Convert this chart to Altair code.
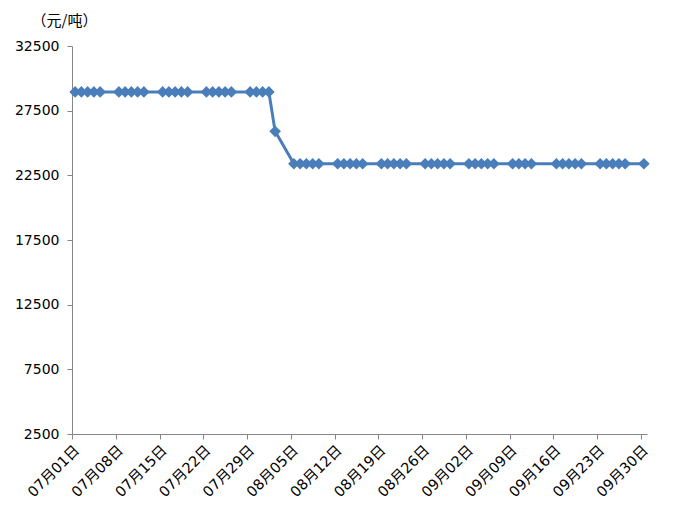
import altair as alt
import pandas as pd

# Trading days (2013) and price in 元/吨
trade_days = [
    "07-01", "07-02", "07-03", "07-04", "07-05",
    "07-08", "07-09", "07-10", "07-11", "07-12",
    "07-15", "07-16", "07-17", "07-18", "07-19",
    "07-22", "07-23", "07-24", "07-25", "07-26",
    "07-29", "07-30", "07-31", "08-01",
    "08-02",
    "08-05", "08-06", "08-07", "08-08", "08-09",
    "08-12", "08-13", "08-14", "08-15", "08-16",
    "08-19", "08-20", "08-21", "08-22", "08-23",
    "08-26", "08-27", "08-28", "08-29", "08-30",
    "09-02", "09-03", "09-04", "09-05", "09-06",
    "09-09", "09-10", "09-11", "09-12",
    "09-16", "09-17", "09-18", "09-19", "09-20",
    "09-23", "09-24", "09-25", "09-26", "09-27",
    "09-30",
]
prices = [28950] * 24 + [25900] + [23400] * 40

tick_days = ["07-01", "07-08", "07-15", "07-22", "07-29", "08-05", "08-12",
             "08-19", "08-26", "09-02", "09-09", "09-16", "09-23", "09-30"]
y_ticks = [2500, 7500, 12500, 17500, 22500, 27500, 32500]

YEAR = "2013"
df = pd.DataFrame({
    "date": [f"{YEAR}-{d}T12:00:00Z" for d in trade_days],
    "price": prices,
})

BLUE = "#4A7EBB"
AXIS_GRAY = "#868686"
LABEL_FONT = "DejaVu Sans, Noto Sans CJK SC"


def utc(d):
    m, day = d.split("-")
    return alt.DateTime(year=int(YEAR), month=int(m), date=int(day), utc=True)


x_enc = alt.X(
    "date:T",
    scale=alt.Scale(type="utc", domain=[utc("07-01"), utc("10-01")]),
    axis=alt.Axis(
        values=[utc(d) for d in tick_days],
        format="%m月%d日",
        labelAngle=-45,
        labelFont=LABEL_FONT,
        labelFontSize=14.5,
        labelColor="#000000",
        labelPadding=4,
        domainColor=AXIS_GRAY,
        tickColor=AXIS_GRAY,
        tickSize=5,
        grid=False,
        title=None,
        labelOverlap=False,
    ),
)

y_enc = alt.Y(
    "price:Q",
    scale=alt.Scale(domain=[2500, 32500], nice=False, zero=False),
    axis=alt.Axis(
        values=y_ticks,
        format="d",
        labelFont=LABEL_FONT,
        labelFontSize=14,
        labelColor="#000000",
        labelPadding=8,
        domainColor=AXIS_GRAY,
        tickColor=AXIS_GRAY,
        tickSize=5,
        grid=False,
        title="（元/吨）",
        titleAngle=0,
        titleAlign="left",
        titleBaseline="middle",
        titleX=-41,
        titleY=-26,
        titleFont="Noto Sans CJK SC",
        titleFontSize=15,
        titleFontWeight="normal",
        titleColor="#000000",
    ),
)

chart = (
    alt.Chart(df)
    .mark_line(
        color=BLUE,
        strokeWidth=3,
        point=alt.OverlayMarkDef(shape="diamond", size=135, filled=True, color=BLUE, opacity=1),
    )
    .encode(x=x_enc, y=y_enc)
    .properties(
        width=575,
        height=388,
        autosize=alt.AutoSizeParams(type="none"),
        padding={"left": 64, "top": 38, "right": 20, "bottom": 73},
        background="white",
    )
    .configure_view(stroke=None)
)

chart.save("out.html", embed_options={"renderer": "svg", "actions": False})
